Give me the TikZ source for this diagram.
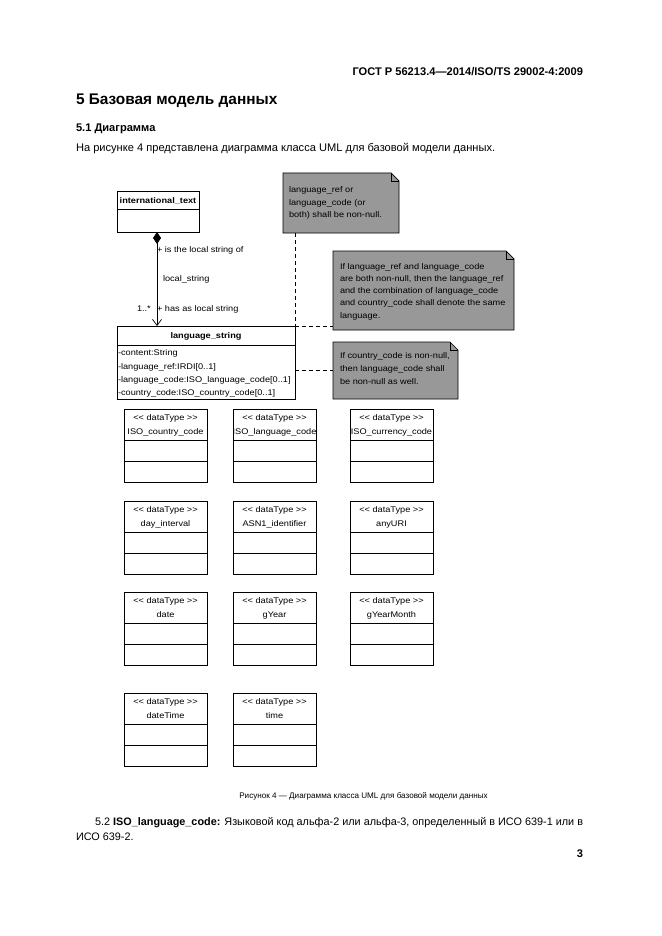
\documentclass[tikz,border=0pt]{standalone}
\usepackage{fontspec}
\setmainfont{Liberation Sans}
\newfontfamily\dgm{Liberation Sans}[FakeStretch=1.12,Ligatures=TeXOff]
\usetikzlibrary{arrows.meta}
\definecolor{notegray}{RGB}{152,152,152}
\newcommand{\dtbox}[4]{%
  \node[dtb] (#1) at (#2,#3) {};
  \draw[thinl] ([yshift=-31pt]#1.north west) -- ([yshift=-31pt]#1.north east);
  \draw[thinl] ([yshift=-52pt]#1.north west) -- ([yshift=-52pt]#1.north east);
  \node[dtxt, anchor=base] (#1s) at ([yshift=-11pt]#1.north) {<< dataType >>};
  \node[dtxt, anchor=base] (#1n) at ([yshift=-25pt]#1.north) {#4};
}
\newcommand{\notebox}[1]{%
  \fill[notegray] (#1.north west) -- ([xshift=-8pt]#1.north east) -- ([yshift=-8pt]#1.north east) -- (#1.south east) -- (#1.south west) -- cycle;
  \draw[thinl] (#1.north west) -- ([xshift=-8pt]#1.north east) -- ([yshift=-8pt]#1.north east) -- (#1.south east) -- (#1.south west) -- cycle;
  \draw[thinl] ([xshift=-8pt]#1.north east) -- ([xshift=-8pt,yshift=-8pt]#1.north east) -- ([yshift=-8pt]#1.north east);
}
\begin{document}
\begin{tikzpicture}[x=1pt,y=-1pt,
  every node/.style={inner sep=0pt, outer sep=0pt},
  thinl/.style={line width=0.7pt},
  dtb/.style={draw, line width=0.7pt, anchor=north west, minimum width=83pt, minimum height=73pt},
  clsbox/.style={draw, line width=0.7pt, anchor=north west},
  notearea/.style={anchor=north west},
  dtxt/.style={font=\dgm\fontsize{8.2}{10}\selectfont},
  btxt/.style={font=\dgm\bfseries\fontsize{8.2}{10}\selectfont},
  ntxt/.style={font=\dgm\fontsize{8.2}{10}\selectfont, anchor=base west},
  dashl/.style={line width=0.7pt, dash pattern=on 4pt off 3pt},
  ptxt/.style={font=\fontsize{11.1}{13}\selectfont, anchor=base west},
]
\useasboundingbox[fill=white] (0,0) rectangle (661,936);

% page text
\node[anchor=base east, font=\bfseries\fontsize{11.1}{13}\selectfont] (hdr) at (583,76) {ГОСТ Р 56213.4—2014/ISO/TS 29002-4:2009};
\node[anchor=base west, font=\bfseries\fontsize{15.4}{18}\selectfont] (sec) at (76,105) {5 Базовая модель данных};
\node[anchor=base west, font=\bfseries\fontsize{11.1}{13}\selectfont] (sub) at (76,132) {5.1 Диаграмма};
\node[ptxt] (intro) at (76,152) {На рисунке 4 представлена диаграмма класса UML для базовой модели данных.};
\node[anchor=base, font=\fontsize{8.1}{10}\selectfont] (cap) at (363.5,798.5) {Рисунок 4 — Диаграмма класса UML для базовой модели данных};
\node[ptxt, font=\fontsize{10.85}{13}\selectfont] (p52) at (95,825) {5.2 \textbf{ISO\_language\_code:} Языковой код альфа-2 или альфа-3, определенный в ИСО 639-1 или в};
\node[ptxt, font=\fontsize{10.85}{13}\selectfont] (p52b) at (76,840) {ИСО 639-2.};
\node[anchor=base east, font=\bfseries\fontsize{11.1}{13}\selectfont] (pg) at (583,857.5) {3};

% international_text
\node[clsbox, minimum width=82pt, minimum height=41pt] (it) at (117,191) {};
\draw[thinl] ([yshift=-18pt]it.north west) -- ([yshift=-18pt]it.north east);
\node[btxt, anchor=base] (itn) at (158,203.5) {international\_text};

% language_string
\node[clsbox, minimum width=178pt, minimum height=73pt] (ls) at (117,326) {};
\draw[thinl] ([yshift=-19pt]ls.north west) -- ([yshift=-19pt]ls.north east);
\node[btxt, anchor=base] (lsn) at (206,338.5) {language\_string};
\node[ntxt] (a1) at (118,355.5) {-content:String};
\node[ntxt] (a2) at (118,369) {-language\_ref:IRDI[0..1]};
\node[ntxt] (a3) at (118,382) {-language\_code:ISO\_language\_code[0..1]};
\node[ntxt] (a4) at (118,395.5) {-country\_code:ISO\_country\_code[0..1]};

% composition
\coordinate (itb) at (157,232);
\coordinate (lst) at (157,326);
\draw[thinl, {Diamond[length=12pt,width=8pt]}-{Straight Barb[length=6pt,width=9pt,line width=0.7pt]}] (itb) -- (lst);
\node[ntxt] (r1) at (157,252) {+ is the local string of};
\node[ntxt] (r2) at (163,281) {local\_string};
\node[ntxt] (r3) at (137,311) {1..*};
\node[ntxt] (r4) at (157,311) {+ has as local string};

% notes
\node[notearea, minimum width=116pt, minimum height=60pt] (n1) at (283,173) {};
\notebox{n1}
\node[ntxt] (n1a) at (289,193) {language\_ref or};
\node[ntxt] (n1b) at (289,205) {language\_code (or};
\node[ntxt] (n1c) at (289,217) {both) shall be non-null.};

\node[notearea, minimum width=181pt, minimum height=79pt] (n2) at (333,251) {};
\notebox{n2}
\node[ntxt] (n2a) at (340,269) {If language\_ref and language\_code};
\node[ntxt] (n2b) at (340,281) {are both non-null, then the language\_ref};
\node[ntxt] (n2c) at (340,293.5) {and the combination of language\_code};
\node[ntxt] (n2d) at (340,305.5) {and country\_code shall denote the same};
\node[ntxt] (n2e) at (340,318) {language.};

\node[notearea, minimum width=125pt, minimum height=57pt] (n3) at (333,342) {};
\notebox{n3}
\node[ntxt] (n3a) at (340,358) {If country\_code is non-null,};
\node[ntxt] (n3b) at (340,371) {then language\_code shall};
\node[ntxt] (n3c) at (340,384) {be non-null as well.};

% note connectors
\coordinate (lsn1) at (ls.north east |- n1.south);
\draw[dashl] (lsn1) -- (ls.north east);
\coordinate (n2c1) at (n2.west |- ls.north east);
\draw[dashl] (ls.north east) -- (n2c1);
\coordinate (lsc) at (295,370);
\coordinate (n3c1) at (n3.west |- lsc);
\draw[dashl] (lsc) -- (n3c1);

% datatypes
\dtbox{d1}{124}{409}{ISO\_country\_code}
\dtbox{d2}{233}{409}{ISO\_language\_code}
\dtbox{d3}{350}{409}{ISO\_currency\_code}
\dtbox{d4}{124}{501}{day\_interval}
\dtbox{d5}{233}{501}{ASN1\_identifier}
\dtbox{d6}{350}{501}{anyURI}
\dtbox{d7}{124}{592}{date}
\dtbox{d8}{233}{592}{gYear}
\dtbox{d9}{350}{592}{gYearMonth}
\dtbox{d10}{124}{693}{dateTime}
\dtbox{d11}{233}{693}{time}
\end{tikzpicture}
\end{document}
